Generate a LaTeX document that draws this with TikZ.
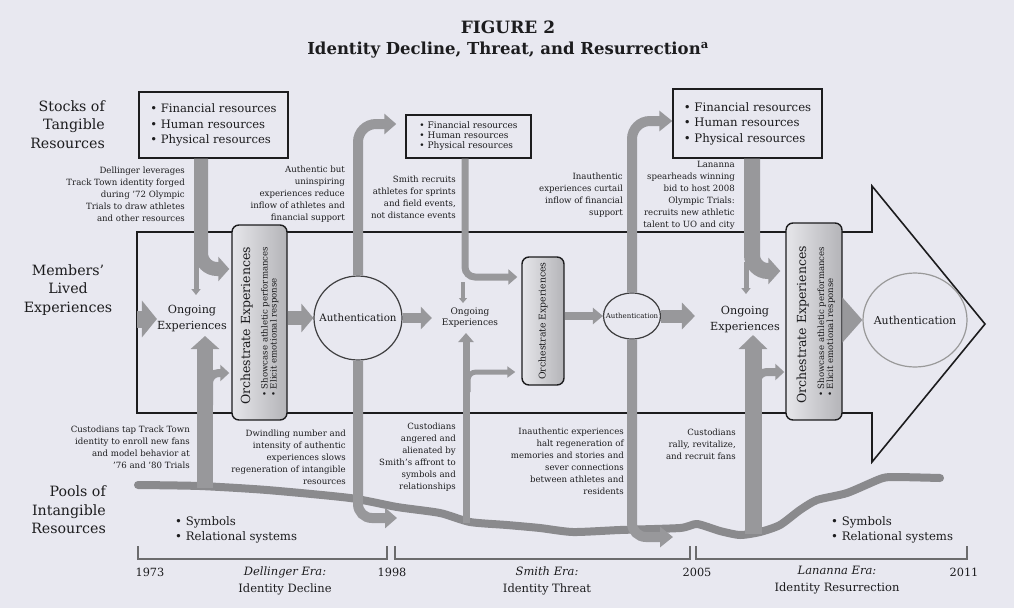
\documentclass[tikz,border=0pt]{standalone}
\usepackage{fontspec}
\setmainfont{DejaVu Serif}
\usetikzlibrary{arrows.meta,shapes.geometric}
\definecolor{bg}{RGB}{232,232,240}
\definecolor{ink}{RGB}{28,28,30}
\definecolor{agray}{RGB}{152,152,155}
\definecolor{pgray}{RGB}{138,138,141}
\definecolor{orchL}{RGB}{230,230,234}
\definecolor{orchR}{RGB}{180,180,184}
\newcommand\fsz[2]{\fontsize{#1}{#2}\selectfont}
\tikzset{
  ga/.style={draw=agray},
  note/.style={align=right, anchor=east, inner sep=0pt, text=ink, font={\fsz{8.6}{12}}},
  bigl/.style={align=right, anchor=east, inner sep=0pt, text=ink, font={\fsz{14.2}{18.5}}},
  resbox/.style={draw=ink, line width=1.4pt, fill=bg, align=left, inner sep=0pt, text=ink},
  orch/.style={draw=ink, line width=1.4pt, rounded corners=7pt, left color=orchL, right color=orchR, inner sep=0pt},
  orchtext/.style={rotate=90, anchor=base west, inner sep=0pt, text=ink},
  authn/.style={ellipse, draw=ink!85, line width=1.2pt, fill=bg, inner sep=0pt},
  txt/.style={inner sep=0pt, text=ink, align=center},
  band/.style={draw=ink, line width=1.6pt, line join=miter},
  brk/.style={draw=ink!65, line width=1.1pt},
}
\begin{document}
\begin{tikzpicture}[x=1pt,y=-1pt]
\useasboundingbox[fill=bg] (0,0) rectangle (1014,608);

% title
\node[txt, font={\bfseries\fsz{17}{20}}] (title1) at (508,27) {FIGURE 2};
\node[txt, font={\bfseries\fsz{16.5}{19}}] (title2) at (508,50) {Identity Decline, Threat, and Resurrection\textsuperscript{a}};

% left labels
\node[bigl] (stocks) at (105,124.5) {Stocks of\\Tangible\\Resources};
\node[bigl, align=center, anchor=center] (members) at (68,290) {Members'\\Lived\\Experiences};
\node[bigl] (pools) at (106,510) {Pools of\\Intangible\\Resources};

% big arrow band
\draw[band] (137,232) -- (872,232) -- (872,186) -- (985,324) -- (872,462) -- (872,413) -- (137,413) -- cycle;

% pools line
\draw[draw=pgray, line width=8pt, line cap=round, line join=round] plot[smooth, tension=0.4] coordinates {(138,485) (200,486) (267,490) (350,498) (397,507) (440,513) (470,522) (507,525) (540,528) (573,532) (620,530) (680,528) (697,524) (720,531) (740,535) (760,532) (780,525) (800,510) (817,500) (847,493) (880,479) (893,477) (940,478)};

% brackets
\draw[brk] (138,546) -- (138,559) -- (387,559) -- (387,546);
\draw[brk] (395,546) -- (395,559) -- (690,559) -- (690,546);
\draw[brk] (696,546) -- (696,559) -- (967,559) -- (967,546);

% resource boxes
\node[resbox, minimum width=149pt, minimum height=66pt, font={\fsz{11.6}{15.5}}] (box1) at (213.5,125) {• Financial resources\\• Human resources\\• Physical resources};
\node[resbox, minimum width=125pt, minimum height=43pt, font={\fsz{9}{10}}] (box2) at (468.5,136.5) {• Financial resources\\• Human resources\\• Physical resources};
\node[resbox, minimum width=149pt, minimum height=69pt, font={\fsz{11.7}{15.5}}] (box3) at (747.5,123.5) {• Financial resources\\• Human resources\\• Physical resources};

% orchestrate boxes
\node[orch, minimum width=55pt, minimum height=195pt] (orch1) at (259.5,322.5) {};
\node[orchtext, font={\fsz{12.5}{14}}] (orch1a) at (250,405) {Orchestrate Experiences};
\node[orchtext, font={\fsz{8.6}{9}}] (orch1b) at (267.5,397) {• Showcase athletic performances};
\node[orchtext, font={\fsz{8.6}{9}}] (orch1c) at (276.5,397) {• Elicit emotional response};

\node[orch, minimum width=42pt, minimum height=128pt] (orch2) at (543,321) {};
\node[txt, rotate=90, font={\fsz{9.3}{11}}] (orch2a) at (543,321) {Orchestrate Experiences};

\node[orch, minimum width=56pt, minimum height=197pt] (orch3) at (814,321.5) {};
\node[orchtext, font={\fsz{12.5}{14}}] (orch3a) at (806,404) {Orchestrate Experiences};
\node[orchtext, font={\fsz{8.6}{9}}] (orch3b) at (824,397) {• Showcase athletic performances};
\node[orchtext, font={\fsz{8.6}{9}}] (orch3c) at (833,397) {• Elicit emotional response};

% authentication
\node[authn, minimum width=88pt, minimum height=84pt] (auth1) at (358,318) {};
\node[txt, font={\fsz{10.3}{12}}] (auth1t) at (358,318) {Authentication};
\node[authn, minimum width=57pt, minimum height=46pt] (auth2) at (632,316) {};
\node[txt, font={\fsz{7}{8}}] (auth2t) at (632,316) {Authentication};
\node[authn, draw=gray!80, minimum width=104pt, minimum height=94pt] (auth3) at (915,320) {};
\node[txt, font={\fsz{11}{13}}] (auth3t) at (915,320) {Authentication};

% ongoing experiences
\node[txt, font={\fsz{11.2}{16}}] (oe1) at (192,319) {Ongoing\\Experiences};
\node[txt, font={\fsz{9}{11.5}}] (oe2) at (470,317.5) {Ongoing\\Experiences};
\node[txt, font={\fsz{11.2}{16}}] (oe3) at (745,319.5) {Ongoing\\Experiences};

% ---------- grey arrows ----------
% A: Dellinger
\coordinate (xA) at (201,0); \coordinate (yA) at (0,269);
\draw[ga, line width=14pt, rounded corners=16pt, -{Triangle[length=11pt,width=24pt]}] (box1.south -| xA) |- ([xshift=-2pt]orch1.west |- yA);
\coordinate (A1) at (196,250); \coordinate (A2) at (196,295);
\draw[ga, line width=5pt, -{Triangle[length=6pt,width=9pt]}] (A1) -- (A2);
% B: custodians tap
\coordinate (B0) at (205,488); \coordinate (B1) at (205,336);
\draw[ga, line width=16pt, -{Triangle[length=13pt,width=28pt]}] (B0) -- (B1);
\coordinate (B2) at (209,405); \coordinate (yB) at (0,373);
\draw[ga, line width=8pt, rounded corners=10pt, -{Triangle[length=9pt,width=16pt]}] (B2) |- ([xshift=-2pt]orch1.west |- yB);
% entry
\coordinate (in0) at (137,319);
\draw[ga, line width=17pt, -{Triangle[length=15pt,width=36pt]}] (in0) -- (oe1.west);
% orch1 -> auth1
\draw[ga, line width=14pt, -{Triangle[length=12pt,width=28pt]}] (orch1.east |- auth1.center) -- (auth1.west);
% auth1 -> oe2
\draw[ga, line width=10pt, -{Triangle[length=11pt,width=22pt]}] (auth1.east) -- ([xshift=-10pt]oe2.west |- auth1.east);
% auth1 up / down
\coordinate (yC1) at (0,124);
\draw[ga, line width=10pt, rounded corners=18pt, -{Triangle[length=12pt,width=20pt]}] (auth1.north) |- ([xshift=-9pt]box2.west |- yC1);
\coordinate (D1) at (397,518);
\draw[ga, line width=10pt, rounded corners=14pt, -{Triangle[length=12pt,width=20pt]}] (auth1.south) |- (D1);
% C: Smith recruits
\coordinate (xC) at (465,0); \coordinate (yC) at (0,277);
\draw[ga, line width=7pt, rounded corners=10pt, -{Triangle[length=9pt,width=15pt]}] (box2.south -| xC) |- ([xshift=-4pt]orch2.west |- yC);
\coordinate (C1) at (463,282); \coordinate (C2) at (463,303);
\draw[ga, line width=4pt, -{Triangle[length=5pt,width=8pt]}] (C1) -- (C2);
% D: custodians angered
\coordinate (D0) at (466,523); \coordinate (Dt) at (466,333);
\draw[ga, line width=7pt, -{Triangle[length=9pt,width=15pt]}] (D0) -- (Dt);
\coordinate (D2) at (468,392); \coordinate (yD) at (0,372);
\draw[ga, line width=5pt, rounded corners=8pt, -{Triangle[length=8pt,width=11pt]}] (D2) |- ([xshift=-6pt]orch2.west |- yD);
% orch2 -> auth2
\draw[ga, line width=8pt, -{Triangle[length=10pt,width=16pt]}] (orch2.east |- auth2.center) -- (auth2.west);
% auth2 -> oe3
\draw[ga, line width=13pt, -{Triangle[length=13pt,width=26pt]}] (auth2.east) -- ([xshift=-15pt]oe3.west |- auth2.east);
% auth2 up / down
\coordinate (yE1) at (0,121);
\draw[ga, line width=10pt, rounded corners=18pt, -{Triangle[length=13pt,width=20pt]}] (auth2.north) |- (box3.west |- yE1);
\coordinate (E1) at (673,537);
\draw[ga, line width=10pt, rounded corners=14pt, -{Triangle[length=13pt,width=20pt]}] (auth2.south) |- (E1);
% E: Lananna
\coordinate (xE) at (752,0); \coordinate (yE) at (0,271);
\draw[ga, line width=16pt, rounded corners=16pt, -{Triangle[length=12pt,width=26pt]}] (box3.south -| xE) |- ([xshift=-5pt]orch3.west |- yE);
\coordinate (E2) at (746,262); \coordinate (E3) at (746,294);
\draw[ga, line width=5pt, -{Triangle[length=6pt,width=9pt]}] (E2) -- (E3);
% F: custodians rally
\coordinate (F0) at (753,534); \coordinate (Ft) at (753,335);
\draw[ga, line width=17pt, -{Triangle[length=14pt,width=28pt]}] (F0) -- (Ft);
\coordinate (F2) at (757,398); \coordinate (yF) at (0,372);
\draw[ga, line width=8pt, rounded corners=10pt, -{Triangle[length=9pt,width=16pt]}] (F2) |- ([xshift=-1pt]orch3.west |- yF);
% orch3 -> auth3
\draw[ga, line width=22pt, -{Triangle[length=20pt,width=44pt]}] (orch3.east |- auth3.center) -- (auth3.west);

% ---------- annotations ----------
\node[note] (n1) at (185,194) {Dellinger leverages\\Track Town identity forged\\during '72 Olympic\\Trials to draw athletes\\and other resources};
\node[note] (n2) at (345,194) {Authentic but\\uninspiring\\experiences reduce\\inflow of athletes and\\financial support};
\node[note] (n3) at (456,197) {Smith recruits\\athletes for sprints\\and field events,\\not distance events};
\node[note] (n4) at (623,195) {Inauthentic\\experiences curtail\\inflow of financial\\support};
\node[note] (n5) at (735,195.5) {Lananna\\spearheads winning\\bid to host 2008\\Olympic Trials:\\recruits new athletic\\talent to UO and city};
\node[note] (n6) at (190,447) {Custodians tap Track Town\\identity to enroll new fans\\and model behavior at\\'76 and '80 Trials};
\node[note] (n7) at (346,457.5) {Dwindling number and\\intensity of authentic\\experiences slows\\regeneration of intangible\\resources};
\node[note] (n8) at (456,457) {Custodians\\angered and\\alienated by\\Smith's affront to\\symbols and\\relationships};
\node[note] (n9) at (624,461.5) {Inauthentic experiences\\halt regeneration of\\memories and stories and\\sever connections\\between athletes and\\residents};
\node[note] (n10) at (736,444) {Custodians\\rally, revitalize,\\and recruit fans};

% pools bullets
\node[txt, align=left, anchor=west, font={\fsz{11.7}{14.5}}] (sym1) at (175,530) {• Symbols\\• Relational systems};
\node[txt, align=left, anchor=west, font={\fsz{11.7}{14.5}}] (sym2) at (831,530) {• Symbols\\• Relational systems};

% timeline
\node[txt, font={\fsz{11.3}{17}}] (y1973) at (150,572) {1973};
\node[txt, font={\fsz{11.3}{17}}] (y1998) at (392,572) {1998};
\node[txt, font={\fsz{11.3}{17}}] (y2005) at (697,572) {2005};
\node[txt, font={\fsz{11.3}{17}}] (y2011) at (964,572) {2011};
\node[txt, font={\fsz{11.5}{17}}] (era1) at (285,580.5) {\textit{Dellinger Era:}\\Identity Decline};
\node[txt, font={\fsz{11.5}{17}}] (era2) at (547,580.5) {\textit{Smith Era:}\\Identity Threat};
\node[txt, font={\fsz{11.5}{17}}] (era3) at (837,580.5) {\textit{Lananna Era:}\\Identity Resurrection};
\end{tikzpicture}
\end{document}
